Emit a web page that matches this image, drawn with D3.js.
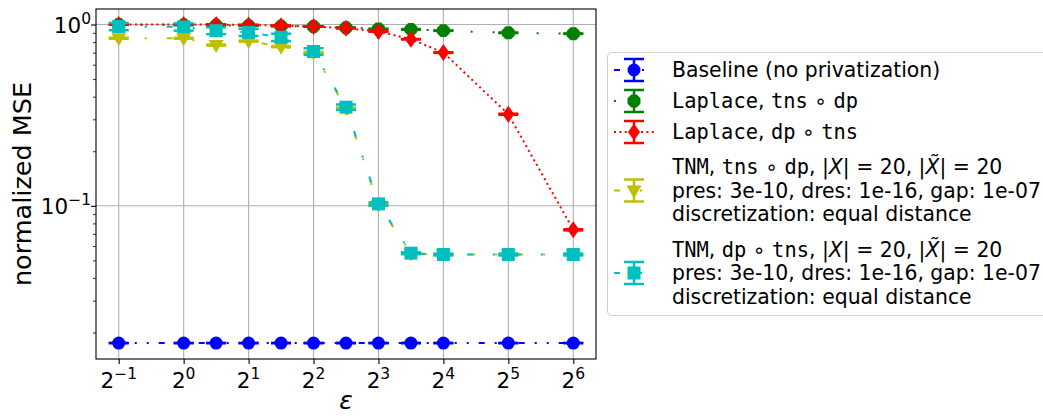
<!DOCTYPE html>
<html>
<head>
<meta charset="utf-8">
<script src="https://cdn.jsdelivr.net/npm/d3@7"></script>
<style>
html,body{margin:0;padding:0;background:#fff;}
svg{display:block;}
text{font-family:"DejaVu Sans",sans-serif;fill:#000;}
.mono{font-family:"DejaVu Sans Mono",monospace;}
</style>
</head>
<body>
<svg id="chart" width="1043" height="416"></svg>
<script>
// ---- data ----
const epsExp = [-1, 0, 0.5, 1, 1.5, 2, 2.5, 3, 3.5, 4, 5, 6];
const baselineVals = [0.0175,0.0175,0.0175,0.0175,0.0175,0.0175,0.0175,0.0175,0.0175,0.0175,0.0175,0.0175];
const baselineErr  = [0,0,0,0,0,0,0,0,0,0,0,0];
const lapTnsDpVals = [1.0, 0.995, 0.99, 0.985, 0.98, 0.975, 0.96, 0.945, 0.94, 0.925, 0.90, 0.89];
const lapTnsDpErr  = [0.003,0.003,0.003,0.003,0.003,0.003,0.003,0.003,0.003,0.003,0.003,0.003];
const lapDpTnsVals = [1.0, 1.0, 1.0, 0.995, 0.985, 0.975, 0.955, 0.915, 0.83, 0.70, 0.32, 0.0737];
const lapDpTnsErr  = [0.002,0.002,0.002,0.002,0.002,0.002,0.002,0.002,0.002,0.002,0.002,0.0005];
const tnmTnsDpVals = [0.84, 0.84, 0.77, 0.81, 0.755, 0.70, 0.345, 0.101, 0.0545, 0.0538, 0.0538, 0.0538];
const tnmTnsDpErr  = [0.005,0.005,0.005,0.005,0.005,0.005,0.003,0.001,0.0003,0.0003,0.0003,0.0003];
const tnmDpTnsVals = [0.975, 0.97, 0.925, 0.905, 0.85, 0.71, 0.35, 0.1025, 0.0548, 0.0539, 0.0539, 0.0539];
const tnmDpTnsErr  = [0.045,0.045,0.04,0.04,0.04,0.03,0.012,0.002,0.0006,0.0006,0.0006,0.0006];
const xTickExps = [-1, 0, 1, 2, 3, 4, 5, 6];
const yTickExps = [0, -1];
const legendLabels = [
  ["Baseline (no privatization)"],
  ["Laplace, tns ∘ dp"],
  ["Laplace, dp ∘ tns"],
  ["TNM, tns ∘ dp, |X| = 20, |X̃| = 20", "pres: 3e-10, dres: 1e-16, gap: 1e-07", "discretization: equal distance"],
  ["TNM, dp ∘ tns, |X| = 20, |X̃| = 20", "pres: 3e-10, dres: 1e-16, gap: 1e-07", "discretization: equal distance"]
];

// ---- layout ----
const L = 96, R = 596, T = 9, B = 359;
const svg = d3.select("#chart");
const x = d3.scaleLog().base(2).domain([Math.pow(2,-1.35), Math.pow(2,6.35)]).range([L, R]);
const y = d3.scaleLog().base(10).domain([Math.pow(10,0.0856), Math.pow(10,-1.845)]).range([T, B]);

const series = [
  {vals: baselineVals, err: baselineErr, color: "#0000ff", marker: "circle", dash: "6,10,2,10,2,10"},
  {vals: lapTnsDpVals, err: lapTnsDpErr, color: "#008000", marker: "octagon", dash: "2,20"},
  {vals: lapDpTnsVals, err: lapDpTnsErr, color: "#ff0000", marker: "thin_diamond", dash: "2,3.4"},
  {vals: tnmTnsDpVals, err: tnmTnsDpErr, color: "#bfbf00", marker: "tri_down", dash: "6,20,2,20"},
  {vals: tnmDpTnsVals, err: tnmDpTnsErr, color: "#00bfbf", marker: "square", dash: "6,20,2,20"}
];

// grid
const g = svg.append("g");
g.selectAll(".gx").data(xTickExps).enter().append("line")
  .attr("x1", d => x(Math.pow(2,d))).attr("x2", d => x(Math.pow(2,d)))
  .attr("y1", T).attr("y2", B).attr("stroke", "#b0b0b0").attr("stroke-width", 1.1);
g.selectAll(".gy").data(yTickExps).enter().append("line")
  .attr("y1", d => y(Math.pow(10,d))).attr("y2", d => y(Math.pow(10,d)))
  .attr("x1", L).attr("x2", R).attr("stroke", "#b0b0b0").attr("stroke-width", 1.1);

// axes via d3
const xAxis = d3.axisBottom(x).tickValues(xTickExps.map(e => Math.pow(2,e))).tickSize(5).tickFormat("");
const xa = svg.append("g").attr("transform", `translate(0,${B})`).call(xAxis);
xa.select(".domain").remove();
xa.selectAll("line").attr("stroke", "#000").attr("stroke-width", 1.1);

const minorY = [];
for (const dec of [0.01, 0.1]) for (let k = 2; k <= 9; k++) { const v = k*dec; if (v > y.domain()[1] && v < y.domain()[0]) minorY.push(v); }
const yAxisMinor = d3.axisLeft(y).tickValues(minorY).tickSize(3).tickFormat("");
const yam = svg.append("g").attr("transform", `translate(${L},0)`).call(yAxisMinor);
yam.select(".domain").remove();
yam.selectAll("line").attr("stroke", "#000").attr("stroke-width", 0.8);
const yAxis = d3.axisLeft(y).tickValues(yTickExps.map(e => Math.pow(10,e))).tickSize(5).tickFormat("");
const ya = svg.append("g").attr("transform", `translate(${L},0)`).call(yAxis);
ya.select(".domain").remove();
ya.selectAll("line").attr("stroke", "#000").attr("stroke-width", 1.1);

// tick labels
const fsTick = 21.5, fsSup = 15.5;
xTickExps.forEach(e => {
  const t = svg.append("text").attr("x", x(Math.pow(2,e))).attr("y", 388)
    .attr("text-anchor", "middle").style("font-size", fsTick + "px");
  t.append("tspan").text("2");
  t.append("tspan").attr("dy", -9).style("font-size", fsSup + "px").text(e < 0 ? "−" + Math.abs(e) : String(e));
});
yTickExps.forEach(e => {
  const t = svg.append("text").attr("x", 91).attr("y", y(Math.pow(10,e)) + 8)
    .attr("text-anchor", "end").style("font-size", fsTick + "px");
  t.append("tspan").text("10");
  t.append("tspan").attr("dy", -9).style("font-size", fsSup + "px").text(e < 0 ? "−" + Math.abs(e) : String(e));
});

// axis labels
svg.append("text").attr("x", (L+R)/2).attr("y", 409).attr("text-anchor", "middle")
  .style("font-size", "25px").style("font-style", "italic").text("ε");
svg.append("text").attr("transform", `translate(31,${(T+B)/2}) rotate(-90)`).attr("text-anchor", "middle")
  .style("font-size", "25.5px").text("normalized MSE");

// markers
function drawMarker(sel, type, cx, cy, color) {
  if (type === "circle") {
    sel.append("circle").attr("cx", cx).attr("cy", cy).attr("r", 6.5).attr("fill", color);
  } else if (type === "square") {
    sel.append("rect").attr("x", cx-6.5).attr("y", cy-6.5).attr("width", 13).attr("height", 13).attr("fill", color);
  } else if (type === "thin_diamond") {
    sel.append("path").attr("d", `M${cx},${cy-8.5}L${cx+6},${cy}L${cx},${cy+8.5}L${cx-6},${cy}Z`).attr("fill", color);
  } else if (type === "tri_down") {
    sel.append("path").attr("d", `M${cx-7.5},${cy-5}L${cx+7.5},${cy-5}L${cx},${cy+8}Z`).attr("fill", color);
  } else if (type === "octagon") {
    const pts = d3.range(8).map(i => { const a = Math.PI/8 + i*Math.PI/4; return [cx + 7*Math.cos(a), cy + 7*Math.sin(a)]; });
    sel.append("path").attr("d", "M" + pts.map(p => p.join(",")).join("L") + "Z").attr("fill", color);
  }
}

const line = d3.line().x(d => x(Math.pow(2, d.e))).y(d => y(d.v));
series.forEach(s => {
  const gs = svg.append("g");
  const pts = epsExp.map((e, i) => ({e, v: s.vals[i], err: s.err[i]}));
  gs.append("path").attr("d", line(pts)).attr("fill", "none").attr("stroke", s.color)
    .attr("stroke-width", 2).attr("stroke-dasharray", s.dash);
  pts.forEach(p => {
    const cx = x(Math.pow(2, p.e));
    const y1 = y(p.v + p.err), y2 = y(p.v - p.err);
    gs.append("line").attr("x1", cx).attr("x2", cx).attr("y1", y1).attr("y2", y2).attr("stroke", s.color).attr("stroke-width", 2.5);
    [y1, y2].forEach(yy => gs.append("line").attr("x1", cx-10).attr("x2", cx+10).attr("y1", yy).attr("y2", yy)
      .attr("stroke", s.color).attr("stroke-width", 2.5));
    drawMarker(gs, s.marker, cx, y(p.v), s.color);
  });
});

// frame
svg.append("rect").attr("x", L).attr("y", T).attr("width", R-L).attr("height", B-T)
  .attr("fill", "none").attr("stroke", "#000").attr("stroke-width", 1.1);

// legend
const lg = svg.append("g");
lg.append("rect").attr("x", 607.5).attr("y", 52.5).attr("width", 480).attr("height", 263).attr("rx", 4)
  .attr("fill", "#fff").attr("stroke", "#d0d0d0").attr("stroke-width", 1);
const handleY = [70, 101, 132, 190.5, 273];
const lineYs = [[70], [101], [132], [167, 190.5, 213.5], [250, 273, 296.5]];
const fsLeg = 20.4;
function addRich(t, str) {
  const parts = str.split(/(Laplace|TNM|tns|dp|X̃|X)/);
  parts.forEach(p => {
    if (p === "") return;
    const ts = t.append("tspan").text(p);
    if (["Laplace","TNM","tns","dp"].includes(p)) ts.attr("class", "mono");
    if (p === "X" || p === "X̃") ts.style("font-style", "italic");
  });
}
series.forEach((s, i) => {
  const hy = handleY[i];
  lg.append("line").attr("x1", 614).attr("x2", 654).attr("y1", hy).attr("y2", hy)
    .attr("stroke", s.color).attr("stroke-width", 2).attr("stroke-dasharray", s.dash);
  lg.append("line").attr("x1", 634).attr("x2", 634).attr("y1", hy-11).attr("y2", hy+11).attr("stroke", s.color).attr("stroke-width", 2.5);
  [hy-11, hy+11].forEach(yy => lg.append("line").attr("x1", 624).attr("x2", 644).attr("y1", yy).attr("y2", yy)
    .attr("stroke", s.color).attr("stroke-width", 2.5));
  drawMarker(lg, s.marker, 634, hy, s.color);
  legendLabels[i].forEach((txt, j) => {
    const t = lg.append("text").attr("x", 672).attr("y", lineYs[i][j] + 7).style("font-size", fsLeg + "px");
    addRich(t, txt);
  });
});
</script>
</body>
</html>
